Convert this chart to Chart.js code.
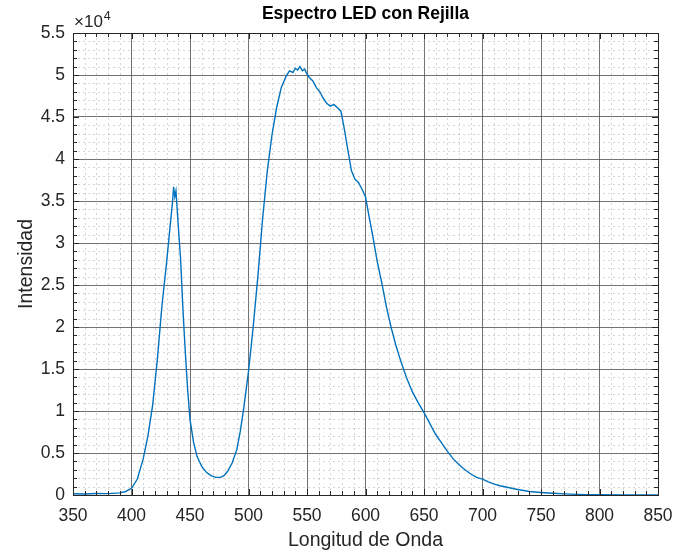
<!DOCTYPE html>
<html>
<head>
<meta charset="utf-8">
<script src="https://cdn.jsdelivr.net/npm/chart.js@4"></script>
<style>
  body { margin: 0; background: #fff; }
  #wrap { width: 673px; height: 554px; }
</style>
</head>
<body>
<div id="wrap"><canvas id="spectrum"></canvas></div>
<script>
// wavelength (nm) and intensity
const wavelengths = [
    350, 360, 370, 380, 390, 395, 400, 405, 410, 414, 418, 422, 426, 430, 433, 435, 436, 437, 438, 440,
    442, 444, 446, 448, 450, 453, 456, 460, 464, 468, 472, 476, 479, 482, 486, 490, 493, 496, 500, 504,
    508, 512, 516, 520, 524, 528, 532, 535, 538, 540, 542, 544, 546, 548, 550, 552, 555, 558, 561, 564,
    567, 570, 573, 576, 579, 582, 585, 588, 591, 594, 597, 600, 603, 606, 610, 614, 618, 622, 626, 630,
    635, 640, 645, 650, 655, 660, 665, 670, 675, 680, 685, 690, 695, 700, 705, 710, 715, 720, 730, 740,
    750, 760, 770, 780, 790, 800, 820, 850
];
const intensity = [
    150, 120, 180, 160, 250, 420, 800, 1900, 4300, 7000, 10600, 16000, 22500, 27700, 32000, 34800, 36700, 35500, 36200, 32000,
    28000, 22000, 17000, 12500, 9000, 6300, 4600, 3400, 2700, 2300, 2100, 2100, 2300, 2800, 3800, 5400, 7600, 10400, 14700, 20000,
    26000, 32800, 38500, 42800, 46100, 48500, 49800, 50500, 50300, 50800, 50600, 51000, 50500, 50700, 50100, 49700, 49300, 48500, 48000, 47200,
    46600, 46300, 46500, 46100, 45700, 43500, 41000, 38600, 37600, 37200, 36400, 35500, 33200, 31000, 27800, 25200, 22300, 19900, 17800, 16000,
    14000, 12300, 11000, 9800, 8500, 7200, 6200, 5200, 4300, 3600, 3000, 2500, 2100, 1900, 1550, 1300, 1100, 950, 650, 420,
    300, 200, 130, 80, 50, 30, 10, 0
];

const titleText = "Espectro LED con Rejilla";
const xLabel = "Longitud de Onda";
const yLabel = "Intensidad";

const xMin = 350, xMax = 850, xStep = 50, xMinor = 10;
const yMin = 0, yMax = 55000, yStep = 5000, yMinor = 1000;

const textColor = "#262626";
const fontFamily = "'Liberation Sans', Arial, sans-serif";

// minor grid, inward ticks, box, title and x10^4 label (MATLAB look)
const matlabAxes = {
    id: "matlabAxes",
    beforeDatasetsDraw(chart) {
        const { ctx, chartArea: a, scales: { x, y } } = chart;
        ctx.save();
        ctx.strokeStyle = "rgba(150,150,150,0.4)";
        ctx.lineWidth = 1;
        ctx.setLineDash([2, 3]);
        for (let v = xMin + xMinor; v < xMax; v += xMinor) {
            if (v % xStep === 0) continue;
            const px = Math.round(x.getPixelForValue(v)) + 0.5;
            ctx.beginPath();
            ctx.moveTo(px, a.top);
            ctx.lineTo(px, a.bottom);
            ctx.stroke();
        }
        for (let v = yMin + yMinor; v < yMax; v += yMinor) {
            if (v % yStep === 0) continue;
            const py = Math.round(y.getPixelForValue(v)) + 0.5;
            ctx.beginPath();
            ctx.moveTo(a.left, py);
            ctx.lineTo(a.right, py);
            ctx.stroke();
        }
        ctx.restore();
    },
    afterDraw(chart) {
        const { ctx, chartArea: a, scales: { x, y } } = chart;
        ctx.save();
        ctx.strokeStyle = textColor;
        ctx.lineWidth = 1;
        ctx.setLineDash([]);
        // inward ticks on all four sides
        for (let v = xMin; v <= xMax; v += xMinor) {
            const len = v % xStep === 0 ? 6 : 4;
            const px = Math.round(x.getPixelForValue(v)) + 0.5;
            ctx.beginPath();
            ctx.moveTo(px, a.bottom);
            ctx.lineTo(px, a.bottom - len);
            ctx.moveTo(px, a.top);
            ctx.lineTo(px, a.top + len);
            ctx.stroke();
        }
        for (let v = yMin; v <= yMax; v += yMinor) {
            const len = v % yStep === 0 ? 6 : 4;
            const py = Math.round(y.getPixelForValue(v)) + 0.5;
            ctx.beginPath();
            ctx.moveTo(a.left, py);
            ctx.lineTo(a.left + len, py);
            ctx.moveTo(a.right, py);
            ctx.lineTo(a.right - len, py);
            ctx.stroke();
        }
        // box
        ctx.strokeRect(Math.round(a.left) + 0.5, Math.round(a.top) + 0.5,
            Math.round(a.right - a.left), Math.round(a.bottom - a.top));

        // title
        ctx.fillStyle = "#000";
        ctx.font = "bold 17.5px " + fontFamily;
        ctx.textAlign = "center";
        ctx.textBaseline = "alphabetic";
        ctx.fillText(titleText, (a.left + a.right) / 2, 19);

        // exponent label
        ctx.fillStyle = textColor;
        ctx.textAlign = "left";
        ctx.font = "17px " + fontFamily;
        ctx.fillText("\u00d710", a.left + 1, 27);
        const w = ctx.measureText("\u00d710").width;
        ctx.font = "12.5px " + fontFamily;
        ctx.fillText("4", a.left + 2 + w, 19.5);
        ctx.restore();
    }
};

const ctx = document.getElementById("spectrum").getContext("2d");
new Chart(ctx, {
    type: "line",
    data: {
        datasets: [
            {
                data: wavelengths.map((w, i) => ({ x: w, y: intensity[i] })),
                borderColor: "#0072BD",
                borderWidth: 1.4,
                pointRadius: 0,
                tension: 0,
                fill: false,
            },
        ],
    },
    options: {
        responsive: true,
        maintainAspectRatio: false,
        animation: false,
        layout: { padding: { top: 33, right: 15, left: 0, bottom: 0 } },
        plugins: {
            legend: { display: false },
            tooltip: { enabled: false },
        },
        scales: {
            x: {
                type: "linear",
                min: xMin,
                max: xMax,
                afterFit(scale) {
                    scale.height = 59;
                    scale.paddingLeft = 0;
                    scale.paddingRight = 0;
                },
                afterBuildTicks(scale) {
                    const t = [];
                    for (let v = xMin; v <= xMax; v += xStep) t.push({ value: v });
                    scale.ticks = t;
                },
                ticks: {
                    color: textColor,
                    font: { family: fontFamily, size: 17.5 },
                    padding: 11,
                    maxRotation: 0,
                },
                grid: { color: "rgba(80,80,80,0.8)", drawTicks: false },
                border: { display: true, color: textColor },
                title: {
                    display: true,
                    text: xLabel,
                    color: textColor,
                    font: { family: fontFamily, size: 19.5 },
                    padding: { top: 0, bottom: 2 },
                },
            },
            y: {
                type: "linear",
                min: yMin,
                max: yMax,
                afterFit(scale) {
                    scale.width = 73;
                    scale.paddingTop = 0;
                    scale.paddingBottom = 0;
                },
                afterBuildTicks(scale) {
                    const t = [];
                    for (let v = yMin; v <= yMax; v += yStep) t.push({ value: v });
                    scale.ticks = t;
                },
                ticks: {
                    color: textColor,
                    font: { family: fontFamily, size: 17.5 },
                    padding: 8,
                    callback: (v) => String(v / 10000),
                },
                grid: { color: "rgba(80,80,80,0.8)", drawTicks: false },
                border: { display: true, color: textColor },
                title: {
                    display: true,
                    text: yLabel,
                    color: textColor,
                    font: { family: fontFamily, size: 19.5 },
                    padding: { top: 15, bottom: 0 },
                },
            },
        },
    },
    plugins: [matlabAxes],
});
</script>
</body>
</html>
